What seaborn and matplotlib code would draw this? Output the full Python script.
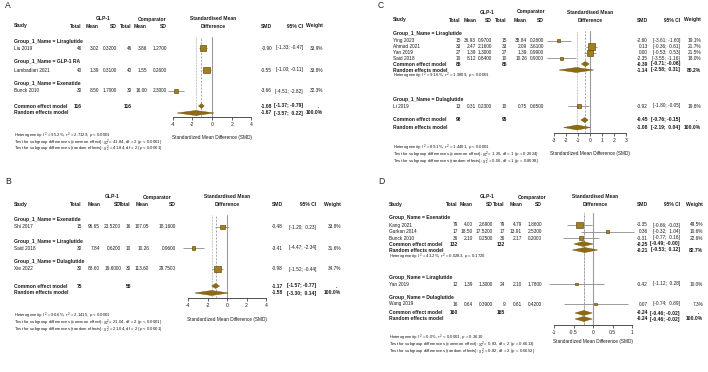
import numpy as np
import pandas as pd
import matplotlib
matplotlib.use("Agg")
import matplotlib.pyplot as plt
import seaborn as sns

sns.set_theme(style="white")
plt.rcParams['font.family'] = ['Liberation Sans', 'DejaVu Sans']
plt.rcParams['mathtext.fontset'] = 'custom'
plt.rcParams['mathtext.rm'] = 'Liberation Sans'
plt.rcParams['mathtext.it'] = 'Liberation Sans:italic'
plt.rcParams['mathtext.bf'] = 'Liberation Sans:bold'

# ------------------------------------------------------------------ data
# Panel A
a_prefix = "Group_1_Name"
a_groups = ["Liraglutide", "GLP-1 RA", "Exenatide"]
a_study = ["Liu 2019", "Lambadiari 2021", "Bunck 2010"]
a_grp = [0, 1, 2]
a_n1 = [46, 40, 30]
a_m1 = [3.02, 1.39, 8.50]
a_sd1 = [0.32, 0.31, 1.70]
a_n2 = [46, 40, 30]
a_m2 = [3.86, 1.55, 16.00]
a_sd2 = [1.27, 0.26, 2.30]
a_smd = [-0.90, -0.55, -3.66]
a_lo = [-1.33, -1.00, -4.51]
a_hi = [-0.47, -0.11, -2.82]
a_w = [33.9, 33.8, 32.3]
a_common = [-1.08, -1.37, -0.79]
a_random = [-1.67, -3.57, 0.22]
a_tot = [116, 116]
a_het = [r"Heterogeneity: $I^2$ = 95.2%, $\tau^2$ = 2.7129, $p$ < 0.0001",
         r"Test for subgroup differences (common effect): $\chi^2_2$ = 41.84, df = 2 ($p$ < 0.0001)",
         r"Test for subgroup differences (random effects): $\chi^2_2$ = 41.84, df = 2 ($p$ < 0.0001)"]

# Panel B
b_prefix = "Group_1_Name"
b_groups = ["Exenatide", "Liraglutide", "Dulaglutide"]
b_study = ["Shi 2017", "Said 2018", "Xie 2022"]
b_grp = [0, 1, 2]
b_n1 = [15, 30, 30]
b_m1 = [96.65, 7.84, 88.60]
b_sd1 = [23.52, 0.62, 19.60]
b_n2 = [16, 10, 30]
b_m2 = [107.05, 10.26, 113.60]
b_sd2 = [18.16, 0.96, 29.75]
b_smd = [-0.48, -3.41, -0.98]
b_lo = [-1.20, -4.47, -1.52]
b_hi = [0.23, -2.34, -0.44]
b_w = [33.8, 31.6, 34.7]
b_common = [-1.17, -1.57, -0.77]
b_random = [-1.58, -3.30, 0.14]
b_tot = [75, 56]
b_het = [r"Heterogeneity: $I^2$ = 90.6%, $\tau^2$ = 2.1415, $p$ < 0.0001",
         r"Test for subgroup differences (common effect): $\chi^2_2$ = 21.04, df = 2 ($p$ < 0.0001)",
         r"Test for subgroup differences (random effects): $\chi^2_2$ = 21.04, df = 2 ($p$ < 0.0001)"]

# Panel C
c_prefix = "Group_1_Name"
c_groups = ["Liraglutide", "Dulaglutide"]
c_study = ["Ying 2023", "Ahmad 2021", "Yan 2019", "Said 2018", "Li 2019"]
c_grp = [0, 0, 0, 0, 1]
c_n1 = [15, 33, 27, 10, 13]
c_m1 = [36.93, 2.47, 1.39, 8.12, 0.31]
c_sd1 = [0.97, 2.16, 1.30, 0.84, 0.23]
c_n2 = [15, 33, 27, 10, 10]
c_m2 = [38.84, 2.09, 1.39, 10.26, 0.75]
c_sd2 = [0.28, 3.61, 0.99, 0.90, 0.65]
c_smd = [-2.60, 0.13, 0.00, -2.35, -0.92]
c_lo = [-3.61, -0.36, -0.53, -3.55, -1.80]
c_hi = [-1.60, 0.61, 0.53, -1.16, -0.05]
c_w = [19.1, 21.7, 21.5, 18.0, 19.8]
c_sub_group = [0]
c_sub_tot = [[85, 85]]
c_sub_common = [[-0.39, -0.71, -0.06]]
c_sub_random = [[-1.14, -2.58, 0.31]]
c_sub_w = [80.2]
c_sub_het = [r"Heterogeneity: $I^2$ = 91.6%, $\tau^2$ = 1.9809, $p$ < 0.0001"]
c_common = [-0.45, -0.76, -0.15]
c_random = [-1.08, -2.19, 0.04]
c_tot = [98, 95]
c_het = [r"Heterogeneity: $I^2$ = 89.1%, $\tau^2$ = 1.4401, $p$ < 0.0001",
         r"Test for subgroup differences (common effect): $\chi^2_1$ = 1.26, df = 1 ($p$ = 0.2624)",
         r"Test for subgroup differences (random effects): $\chi^2_1$ = 0.06, df = 1 ($p$ = 0.8038)"]

# Panel D
d_prefix = "Group_Name"
d_groups = ["Exenatide", "Liraglutide", "Dulaglutide"]
d_study = ["Kang 2021", "Gurkan 2014", "Bunck 2010", "Yan 2019", "Wang 2019"]
d_grp = [0, 0, 0, 1, 2]
d_n1 = [79, 17, 36, 12, 16]
d_m1 = [4.00, 18.50, 2.10, 1.39, 0.64]
d_sd1 = [2.69, 17.52, 0.25, 1.30, 0.39]
d_n2 = [79, 17, 36, 24, 9]
d_m2 = [4.79, 13.91, 2.17, 2.10, 0.61]
d_sd2 = [1.86, 2.53, 0.20, 1.78, 0.42]
d_smd = [-0.35, 0.36, -0.31, -0.42, 0.07]
d_lo = [-0.66, -0.32, -0.77, -1.12, -0.74]
d_hi = [-0.03, 1.04, 0.16, 0.28, 0.89]
d_w = [49.5, 10.6, 22.6, 10.0, 7.3]
d_sub_group = [0]
d_sub_tot = [[132, 132]]
d_sub_common = [[-0.25, -0.49, -0.00]]
d_sub_random = [[-0.21, -0.53, 0.12]]
d_sub_w = [82.7]
d_sub_het = [r"Heterogeneity: $I^2$ = 43.2%, $\tau^2$ = 0.0283, $p$ = 0.1720"]
d_common = [-0.24, -0.46, -0.02]
d_random = [-0.24, -0.46, -0.02]
d_tot = [160, 165]
d_het = [r"Heterogeneity: $I^2$ = 0.0%, $\tau^2$ < 0.0001, $p$ = 0.3610",
         r"Test for subgroup differences (common effect): $\chi^2_2$ = 0.83, df = 2 ($p$ = 0.6613)",
         r"Test for subgroup differences (random effects): $\chi^2_2$ = 0.82, df = 2 ($p$ = 0.6652)"]

# ------------------------------------------------------------------ layout (pixels)
LAYOUT = {
    "A": dict(lab=(5, 6), hdr=(19, 26), sx=14, cols=[82, 99, 117, 132, 147, 167],
              glp=103, comp=152, dc=213, smd_r=272, ci_r=303, w_r=323,
              x0=212, scale=9.8, ticks=[-4, -2, 0, 2, 4],
              gy=[41, 62, 84], sy=[48, 70, 91], sub=[],
              cy=106, ry=113, top=37, axis=117, het=[136, 142.5, 149], xl=138),
    "B": dict(lab=(5, 182), hdr=(197, 205), sx=14, cols=[82, 100, 121, 131, 149, 176],
              glp=112, comp=157, dc=227, smd_r=283, ci_r=316, w_r=341,
              x0=227, scale=9.75, ticks=[-4, -2, 0, 2, 4],
              gy=[219, 241, 262], sy=[227, 248, 269], sub=[],
              cy=286, ry=293, top=215, axis=298, het=[316, 323, 330], xl=320),
    "C": dict(lab=(378, 5), hdr=(12, 20), sx=393, cols=[461, 476, 492, 507, 527, 544],
              glp=487, comp=531, dc=590, smd_r=648, ci_r=680, w_r=701,
              x0=590, scale=12, ticks=[-3, -2, -1, 0, 1, 2, 3],
              gy=[34, 99], sy=[40.7, 46.7, 52.7, 58.4, 106], sub=[(64, 70, 76)],
              cy=120, ry=127.5, top=31, axis=133, het=[148, 155, 162], xl=153),
    "D": dict(lab=(378, 182), hdr=(197, 205), sx=389, cols=[458, 473, 493, 505, 522, 542],
              glp=487, comp=532, dc=595, smd_r=648, ci_r=680, w_r=703,
              x0=593, scale=39, ticks=[-1, -0.5, 0, 0.5, 1],
              gy=[218, 277, 298], sy=[225, 231.5, 238, 284, 304], sub=[(244, 250, 257)],
              cy=313, ry=319, top=213, axis=325, het=[338, 345, 352], xl=342),
}

PANELS = {
    "A": dict(prefix=a_prefix, groups=a_groups, study=a_study, grp=a_grp, n1=a_n1, m1=a_m1, sd1=a_sd1,
              n2=a_n2, m2=a_m2, sd2=a_sd2, smd=a_smd, lo=a_lo, hi=a_hi, w=a_w,
              sub_group=[], sub_tot=[], sub_common=[], sub_random=[], sub_w=[], sub_het=[],
              common=a_common, random=a_random, tot=a_tot, het=a_het),
    "B": dict(prefix=b_prefix, groups=b_groups, study=b_study, grp=b_grp, n1=b_n1, m1=b_m1, sd1=b_sd1,
              n2=b_n2, m2=b_m2, sd2=b_sd2, smd=b_smd, lo=b_lo, hi=b_hi, w=b_w,
              sub_group=[], sub_tot=[], sub_common=[], sub_random=[], sub_w=[], sub_het=[],
              common=b_common, random=b_random, tot=b_tot, het=b_het),
    "C": dict(prefix=c_prefix, groups=c_groups, study=c_study, grp=c_grp, n1=c_n1, m1=c_m1, sd1=c_sd1,
              n2=c_n2, m2=c_m2, sd2=c_sd2, smd=c_smd, lo=c_lo, hi=c_hi, w=c_w,
              sub_group=c_sub_group, sub_tot=c_sub_tot, sub_common=c_sub_common,
              sub_random=c_sub_random, sub_w=c_sub_w, sub_het=c_sub_het,
              common=c_common, random=c_random, tot=c_tot, het=c_het),
    "D": dict(prefix=d_prefix, groups=d_groups, study=d_study, grp=d_grp, n1=d_n1, m1=d_m1, sd1=d_sd1,
              n2=d_n2, m2=d_m2, sd2=d_sd2, smd=d_smd, lo=d_lo, hi=d_hi, w=d_w,
              sub_group=d_sub_group, sub_tot=d_sub_tot, sub_common=d_sub_common,
              sub_random=d_sub_random, sub_w=d_sub_w, sub_het=d_sub_het,
              common=d_common, random=d_random, tot=d_tot, het=d_het),
}

# ------------------------------------------------------------------ drawing
W, H = 708, 372
fig = plt.figure(figsize=(W / 100, H / 100), dpi=100)
fig.patch.set_facecolor("white")

FS = 3.45
FS_BOLD = 3.6
FS_SMALL = 3.1
TXT = "#1a1a1a"
BOX = "#A27F1E"
BOX_EDGE = "#5E4708"
DIA = "#8E6A10"
DIA_EDGE = "#6A4F08"
CI_COL = "#8c8c8c"


def fx(x):
    return x / W


def fy(y):
    return 1 - y / H


def txt(x, y, s, ha="left", bold=False, size=None, color=TXT):
    if size is None:
        size = FS_BOLD if bold else FS
    fig.text(fx(x), fy(y), s, ha=ha, va="center", fontsize=size,
             fontweight="bold" if bold else "normal", color=color)


def ci_str(lo, hi):
    return f"[{lo:5.2f}; {hi:5.2f}]"


def draw_panel(key):
    P, L = PANELS[key], LAYOUT[key]
    txt(L["lab"][0], L["lab"][1], key, size=6.2, color="#222222")
    h1, h2 = L["hdr"]
    txt(L["glp"], h1, "GLP-1", ha="center", bold=True)
    txt(L["comp"], h1, "Comparator", ha="center", bold=True)
    txt(L["dc"], h1, "Standardised Mean", ha="center", bold=True)
    txt(L["sx"], h2, "Study", bold=True)
    for xr, s in zip(L["cols"], ["Total", "Mean", "SD", "Total", "Mean", "SD"]):
        txt(xr, h2, s, ha="right", bold=True)
    txt(L["dc"], h2, "Difference", ha="center", bold=True)
    txt(L["smd_r"], h2, "SMD", ha="right", bold=True)
    txt(L["ci_r"], h2, "95% CI", ha="right", bold=True)
    txt(L["w_r"], h2, "Weight", ha="right", bold=True)

    for gi, g in enumerate(P["groups"]):
        txt(L["sx"], L["gy"][gi], f"{P['prefix']} = {g}", bold=True)

    c = L["cols"]
    for i, name in enumerate(P["study"]):
        y = L["sy"][i]
        txt(L["sx"], y, name)
        txt(c[0], y, f"{P['n1'][i]}", ha="right")
        txt(c[1], y, f"{P['m1'][i]:.2f}", ha="right")
        txt(c[2], y, f"{P['sd1'][i]:.4f}", ha="right")
        txt(c[3], y, f"{P['n2'][i]}", ha="right")
        txt(c[4], y, f"{P['m2'][i]:.2f}", ha="right")
        txt(c[5], y, f"{P['sd2'][i]:.4f}", ha="right")
        txt(L["smd_r"], y, f"{P['smd'][i]:.2f}", ha="right")
        txt(L["ci_r"], y, ci_str(P["lo"][i], P["hi"][i]), ha="right")
        txt(L["w_r"], y, f"{P['w'][i]:.1f}%", ha="right")

    def summary_text(yc, yr, tot, com, ran, wr, dot):
        txt(L["sx"], yc, "Common effect model", bold=True)
        txt(c[0], yc, f"{tot[0]}", ha="right", bold=True)
        txt(c[3], yc, f"{tot[1]}", ha="right", bold=True)
        txt(L["smd_r"], yc, f"{com[0]:.2f}", ha="right", bold=True)
        txt(L["ci_r"], yc, ci_str(com[1], com[2]), ha="right", bold=True)
        if dot:
            txt(L["w_r"] - 4, yc, ".", ha="right", bold=True)
        txt(L["sx"], yr, "Random effects model", bold=True)
        txt(L["smd_r"], yr, f"{ran[0]:.2f}", ha="right", bold=True)
        txt(L["ci_r"], yr, ci_str(ran[1], ran[2]), ha="right", bold=True)
        txt(L["w_r"], yr, f"{wr:.1f}%", ha="right", bold=True)

    for k in range(len(P["sub_group"])):
        yc, yr, yh = L["sub"][k]
        summary_text(yc, yr, P["sub_tot"][k], P["sub_common"][k], P["sub_random"][k], P["sub_w"][k], False)
        txt(L["sx"], yh, P["sub_het"][k], size=FS_SMALL)

    summary_text(L["cy"], L["ry"], P["tot"], P["common"], P["random"], 100.0, True)

    for k, s in enumerate(P["het"]):
        txt(L["sx"], L["het"][k], s, size=FS_SMALL)
    txt(L["x0"], L["xl"], "Standardized Mean Difference (SMD)", ha="center", size=3.45)

    # ---------- forest axes
    ticks = L["ticks"]
    tmin, tmax = ticks[0], ticks[-1]
    left = L["x0"] + L["scale"] * tmin
    ax = fig.add_axes([fx(left), fy(L["axis"]), L["scale"] * (tmax - tmin) / W,
                       (L["axis"] - L["top"]) / H])
    ax.patch.set_visible(False)

    ax.axvline(0, color="#9a9a9a", lw=0.8, zorder=1)
    ax.axvline(P["common"][0], color="#8a8a8a", lw=0.5, ls=(0, (3, 2)), zorder=1)
    ax.axvline(P["random"][0], color="#8a8a8a", lw=0.5, ls=(0, (1, 1.2)), zorder=1)

    smd = np.array(P["smd"])
    lo = np.array(P["lo"])
    hi = np.array(P["hi"])
    sy = np.array(L["sy"])
    ax.hlines(sy, lo, hi, color=CI_COL, lw=0.6, zorder=2, clip_on=False)

    se = (hi - lo) / 3.92
    wc = 1 / se ** 2
    side_px = 6.6 * np.sqrt(wc / wc.max())
    sizes = (side_px * 0.72) ** 2
    df = pd.DataFrame({"smd": smd, "row": sy})
    sns.scatterplot(data=df, x="smd", y="row", marker="s", s=sizes, color=BOX,
                    edgecolor=BOX_EDGE, linewidth=0.45, ax=ax, legend=False, zorder=3,
                    clip_on=False)

    def diamond(est, y, hh=2.5):
        ax.fill([est[1], est[0], est[2], est[0]], [y, y - hh, y, y + hh],
                facecolor=DIA, edgecolor=DIA_EDGE, lw=0.3, zorder=3, clip_on=False)

    for k in range(len(P["sub_group"])):
        yc, yr, _ = L["sub"][k]
        diamond(P["sub_common"][k], yc)
        diamond(P["sub_random"][k], yr)
    diamond(P["common"], L["cy"])
    diamond(P["random"], L["ry"])

    ax.set_xlim(tmin, tmax)
    ax.set_ylim(L["axis"], L["top"])
    ax.set_xlabel("")
    ax.set_ylabel("")
    ax.set_yticks([])
    ax.set_xticks(ticks)
    ax.set_xticklabels([f"{t:g}" for t in ticks])
    for sp in ["top", "left", "right"]:
        ax.spines[sp].set_visible(False)
    ax.spines["bottom"].set_color("#333333")
    ax.spines["bottom"].set_linewidth(0.6)
    ax.tick_params(axis="x", bottom=True, length=2.2, width=0.5, pad=1.6,
                   labelsize=3.6, colors="#222222", direction="out")


for key in ["A", "B", "C", "D"]:
    draw_panel(key)

fig.savefig("out.png", dpi=100, facecolor="white")
